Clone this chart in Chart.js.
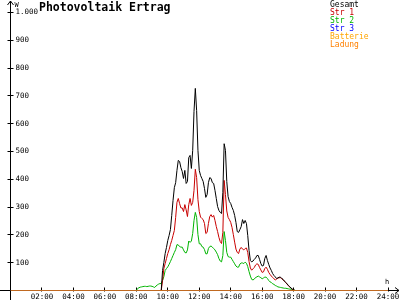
<!DOCTYPE html>
<html>
<head>
<meta charset="utf-8">
<script src="https://cdn.jsdelivr.net/npm/chart.js@4"></script>
<style>
  html, body { margin: 0; padding: 0; background: #fff; }
  #wrap { width: 400px; height: 300px; }
</style>
</head>
<body>
<div id="wrap"><canvas id="pv-chart" width="400" height="300"></canvas></div>
<script>
// 5 minute readings, 08:00 .. 18:05
const times = [
  "08:00","08:05","08:10","08:15","08:20","08:25","08:30","08:35","08:40","08:45","08:50","08:55",
  "09:00","09:05","09:10","09:15","09:20","09:25","09:30","09:35","09:40","09:45","09:50","09:55",
  "10:00","10:05","10:10","10:15","10:20","10:25","10:30","10:35","10:40","10:45","10:50","10:55",
  "11:00","11:05","11:10","11:15","11:20","11:25","11:30","11:35","11:40","11:45","11:50","11:55",
  "12:00","12:05","12:10","12:15","12:20","12:25","12:30","12:35","12:40","12:45","12:50","12:55",
  "13:00","13:05","13:10","13:15","13:20","13:25","13:30","13:35","13:40","13:45","13:50","13:55",
  "14:00","14:05","14:10","14:15","14:20","14:25","14:30","14:35","14:40","14:45","14:50","14:55",
  "15:00","15:05","15:10","15:15","15:20","15:25","15:30","15:35","15:40","15:45","15:50","15:55",
  "16:00","16:05","16:10","16:15","16:20","16:25","16:30","16:35","16:40","16:45","16:50","16:55",
  "17:00","17:05","17:10","17:15","17:20","17:25","17:30","17:35","17:40","17:45","17:50","17:55",
  "18:00","18:05"
];

const gesamt = [
  null,null,null,null,null,null,null,null,null,null,
  null,null,null,null,null,null,null,null,null,
  0,72,101,133,155,180,198,219,270,324,
  370,388,432,468,464,442,428,403,432,385,
  392,478,486,439,504,644,727,647,504,432,
  414,403,392,367,335,345,388,406,403,388,
  385,360,331,302,288,281,277,353,528,504,
  392,338,320,313,299,288,270,245,212,209,
  219,230,255,241,252,241,198,144,108,103,
  106,112,117,126,126,112,97,88,90,115,
  126,108,94,81,72,61,54,49,43,45,
  48,48,43,40,34,29,24,18,14,9,
  5,3,0
];

const str1 = [
  null,null,null,null,null,null,null,null,null,null,
  null,null,null,null,null,null,null,null,null,
  0,36,79,97,115,133,147,165,180,198,
  216,263,317,331,313,297,297,284,309,290,
  266,309,331,306,317,360,436,406,327,284,
  264,259,255,241,205,209,241,266,273,264,
  270,252,230,212,191,176,169,209,396,345,
  286,263,255,245,227,201,174,149,137,133,
  149,155,149,146,151,153,137,104,81,73,
  78,83,92,96,94,83,74,65,67,79,
  84,76,65,58,52,47,42,38,41,45,
  46,46,42,38,33,28,23,17,13,8,
  4,2,0
];

const str2 = [
  0,7,10,12,13,14,15,15,14,15,
  16,16,15,13,11,16,20,23,25,25,
  36,50,72,79,85,94,104,115,126,137,
  147,165,164,158,156,156,146,137,135,146,
  178,173,178,205,252,281,263,201,168,168,
  158,156,147,132,132,151,158,160,156,151,
  146,138,129,115,106,103,126,212,180,137,
  122,120,120,112,104,96,88,84,84,95,
  99,99,97,102,98,86,68,52,40,38,
  41,47,49,52,49,46,42,45,48,48,
  43,36,31,29,24,22,18,16,13,12,
  11,10,9,8,8,7,6,5,5,4,
  3,0
];

// flat series over the whole day
const dayTimes = ["00:00", "24:00"];
const str3 = [0, 0];
const batterie = [0, 0];
const ladung = [0, 0];

const hourTicks = [0, 2, 4, 6, 8, 10, 12, 14, 16, 18, 20, 22, 24];
const wattTicks = [0, 100, 200, 300, 400, 500, 600, 700, 800, 900, 1000];

const MONO = "'DejaVu Sans Mono', 'Liberation Mono', monospace";

function toHours(t) {
  const [h, m] = t.split(":");
  return Number(h) + Number(m) / 60;
}

function points(labels, values) {
  return values.map((v, i) => ({ x: toHours(labels[i]), y: v }));
}

function fmtHour(h) {
  return (h < 10 ? "0" : "") + h + ":00";
}

function fmtWatt(v) {
  return String(v).replace(/\B(?=(\d{3})+(?!\d))/g, ".");
}

// snap to the middle of a pixel so 1px lines stay sharp
const crisp = (v) => Math.floor(v) + 0.5;

// axes with arrows, tick marks, title and the text legend
const decorations = {
  id: "decorations",
  beforeDatasetsDraw(chart) {
    const { ctx, chartArea, scales } = chart;
    const x0 = crisp(chartArea.left);
    const y0 = crisp(chartArea.bottom);
    ctx.save();
    ctx.strokeStyle = "#000";
    ctx.lineWidth = 1;
    ctx.beginPath();
    // y axis
    ctx.moveTo(x0, 300);
    ctx.lineTo(x0, 1);
    ctx.moveTo(x0 - 3, 5);
    ctx.lineTo(x0, 1);
    ctx.lineTo(x0 + 3, 5);
    // x axis
    ctx.moveTo(0, y0);
    ctx.lineTo(399, y0);
    ctx.moveTo(395, y0 - 3);
    ctx.lineTo(399, y0);
    ctx.lineTo(395, y0 + 3);
    // tick marks
    hourTicks.forEach((h) => {
      if (h === 0) return;
      const px = crisp(scales.x.getPixelForValue(h));
      ctx.moveTo(px, y0 - 3);
      ctx.lineTo(px, y0 + 1);
    });
    wattTicks.forEach((w) => {
      if (w === 0) return;
      const py = crisp(scales.y.getPixelForValue(w));
      ctx.moveTo(x0 - 3, py);
      ctx.lineTo(x0 + 3, py);
    });
    ctx.stroke();
    ctx.restore();
  },
  afterDraw(chart) {
    const { ctx, chartArea } = chart;
    ctx.save();
    ctx.fillStyle = "#000";
    ctx.textBaseline = "alphabetic";
    ctx.textAlign = "left";
    ctx.font = "bold 11.5px " + MONO;
    ctx.fillText("Photovoltaik Ertrag", 39, 11);
    ctx.font = "7px " + MONO;
    ctx.fillText("W", chartArea.left + 4, 7);
    ctx.fillText("h", 385, 284);
    ctx.font = "8px " + MONO;
    chart.data.datasets.forEach((ds, i) => {
      ctx.fillStyle = ds.borderColor;
      ctx.fillText(ds.label, 330, 7 + i * 8);
    });
    ctx.restore();
  },
};

class PvChart {
  constructor(canvasId) {
    this.canvasId = canvasId;
    this.chart = null;
    this.init();
  }

  init() {
    const ctx = document.getElementById(this.canvasId).getContext("2d");
    const line = { borderWidth: 1, pointRadius: 0, tension: 0, spanGaps: false, fill: false };

    this.chart = new Chart(ctx, {
      type: "line",
      data: {
        datasets: [
          { ...line, label: "Gesamt", data: points(times, gesamt), borderColor: "#000000", order: 1 },
          { ...line, label: "Str 1", data: points(times, str1), borderColor: "#c80000", order: 2 },
          { ...line, label: "Str 2", data: points(times, str2), borderColor: "#00b400", order: 3 },
          { ...line, label: "Str 3", data: points(dayTimes, str3), borderColor: "#0000ff", order: 4 },
          { ...line, label: "Batterie", data: points(dayTimes, batterie), borderColor: "#ffa500", order: 0 },
          { ...line, label: "Ladung", data: points(dayTimes, ladung), borderColor: "#ff8000", order: -1 },
        ],
      },
      options: {
        responsive: false,
        animation: false,
        events: [],
        layout: { padding: { top: 12.5, right: 12, left: 0.5, bottom: 0 } },
        plugins: {
          legend: { display: false },
          tooltip: { enabled: false },
          title: { display: false },
        },
        scales: {
          x: {
            type: "linear",
            min: 0,
            max: 24,
            grid: { display: false, drawTicks: false },
            border: { display: false },
            afterBuildTicks(scale) {
              scale.ticks = hourTicks.map((v) => ({ value: v }));
            },
            afterFit(scale) {
              scale.height = 9.5;
              scale.paddingLeft = 0;
              scale.paddingRight = 0;
            },
            ticks: {
              autoSkip: false,
              maxRotation: 0,
              padding: 2,
              color: "#000",
              font: { family: MONO, size: 7.5 },
              callback: (v) => (v === 0 ? "" : fmtHour(v)),
            },
          },
          y: {
            min: 0,
            max: 1000,
            grid: { display: false, drawTicks: false },
            border: { display: false },
            afterBuildTicks(scale) {
              scale.ticks = wattTicks.map((v) => ({ value: v }));
            },
            afterFit(scale) {
              scale.width = 10;
              scale.paddingTop = 0;
              scale.paddingBottom = 0;
            },
            ticks: {
              mirror: true,
              padding: 5,
              color: "#000",
              font: { family: MONO, size: 7.5 },
              callback: (v) => (v === 0 ? "" : fmtWatt(v)),
            },
          },
        },
      },
      plugins: [decorations],
    });
  }
}

document.addEventListener("DOMContentLoaded", () => {
  new PvChart("pv-chart");
});
</script>
</body>
</html>
